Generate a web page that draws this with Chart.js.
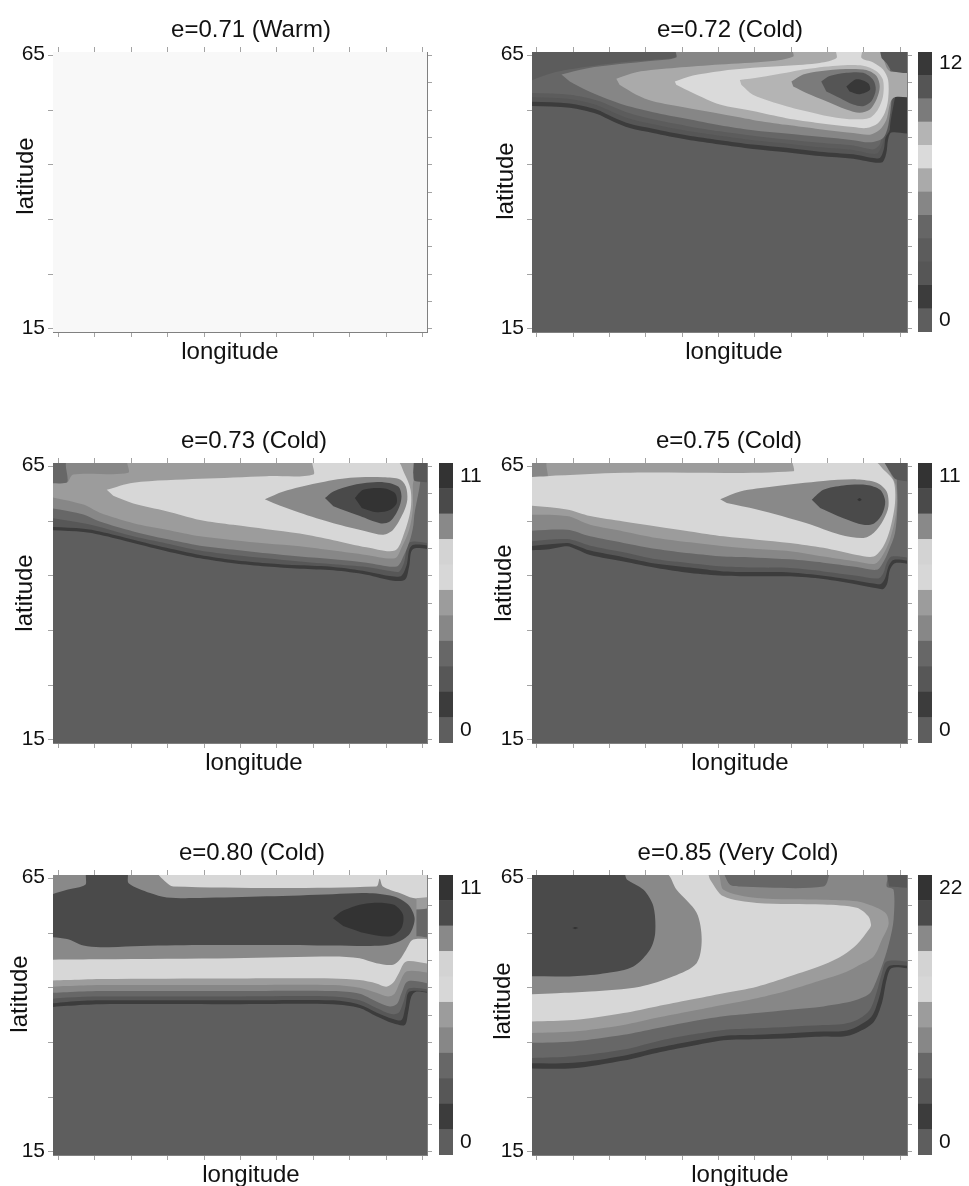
<!DOCTYPE html>
<html>
<head>
<meta charset="utf-8">
<script src="https://cdn.jsdelivr.net/npm/chart.js@4.4.0/dist/chart.umd.min.js"></script>
<style>
  html, body { margin: 0; padding: 0; background: #fff; }
  #figure { position: relative; width: 969px; height: 1186px; overflow: hidden; }
  #figure canvas { position: absolute; }
</style>
</head>
<body>
<div id="figure"></div>
<script>
// ---- data ----
// longitude axis has no labels: x is the tick index 0..10, y is latitude
const lonTicks = [0, 1, 2, 3, 4, 5, 6, 7, 8, 9, 10];
const latTicks = [15, 20, 25, 30, 35, 40, 45, 50, 55, 60, 65];
const latLabels = [15, 65];

const panelTitles = ['e=0.71 (Warm)', 'e=0.72 (Cold)', 'e=0.73 (Cold)', 'e=0.75 (Cold)', 'e=0.80 (Cold)', 'e=0.85 (Very Cold)'];
const colorbarMax = [null, 12, 11, 11, 11, 22];
const colorbarBands = [0, 12, 11, 11, 11, 11];

// contour regions: [level, [[lon, lat], ...]], painted in this order
const contours072 = [
  [1, [[-0.5,66],[10.5,66],[10.5,51.1],[9.76,50.9],[9.67,49.6],[9.62,47.1],[9.49,45.4],[8.71,46.1],[7.79,46.6],[6.87,47.3],[5.95,47.9],[5.04,48.7],[4.12,49.6],[3.20,50.8],[2.56,51.7],[2.10,52.9],[1.64,54.3],[0.91,55.4],[-0.5,55.8]]],
  [2, [[-0.5,66],[9.72,66],[9.72,51.5],[9.6,50.0],[9.55,47.8],[9.42,46.2],[8.71,46.9],[7.79,47.4],[6.87,48.1],[5.95,48.7],[5.04,49.5],[4.12,50.4],[3.20,51.6],[2.56,52.5],[2.10,53.7],[1.64,55.1],[0.91,56.2],[-0.5,56.6]]],
  [3, [[-0.5,66],[9.7,66],[9.7,52.5],[9.58,50.5],[9.5,48.5],[9.35,47.0],[8.71,47.7],[7.79,48.2],[6.87,48.9],[5.95,49.5],[5.04,50.3],[4.12,51.2],[3.20,52.4],[2.56,53.4],[2.10,54.6],[1.64,55.9],[0.91,57.0],[-0.5,57.4]]],
  [4, [[-0.5,59.5],[0.45,61.8],[1.37,62.9],[2.28,63.7],[3.2,64.2],[3.84,64.7],[3.84,66],[9.65,66],[9.65,53],[9.5,50],[9.42,48.5],[9.25,47.8],[8.71,48.5],[7.79,49.0],[6.87,49.6],[5.95,50.3],[5.04,51.1],[4.12,52.1],[3.20,53.3],[2.56,54.4],[2.10,55.6],[1.64,56.8],[0.91,57.8],[-0.5,58.2]]],
  [5, [[0.68,61.5],[1.37,62.6],[2.28,63.4],[3.20,64.0],[3.84,64.6],[3.84,66],[9.53,66],[9.72,62.4],[9.76,56.9],[9.67,52.1],[9.53,49.9],[9.17,49.1],[8.71,49.5],[7.79,50.1],[6.87,50.7],[5.95,51.3],[5.04,52.2],[4.12,53.4],[3.20,54.6],[2.28,56.2],[1.37,58.6],[0.91,60.2]]],
  [6, [[2.19,60.7],[2.74,61.9],[3.84,62.7],[5.04,63.3],[6.41,63.9],[7.06,64.8],[7.06,66],[9.44,66],[9.53,64.5],[9.72,62.1],[10.5,62.1],[10.5,57.5],[9.81,57.2],[9.62,53.2],[9.44,51.4],[9.17,50.5],[8.71,50.8],[7.79,51.5],[6.87,52.3],[5.95,53.2],[5.04,54.3],[4.12,55.4],[3.20,56.6],[2.74,57.8],[2.28,59.6]]],
  [7, [[3.80,60.2],[4.30,61.3],[5.04,62.1],[5.95,62.7],[6.87,63.1],[7.79,63.6],[8.25,64.5],[8.25,66],[8.94,66],[8.94,64.5],[9.26,63.7],[9.53,62.4],[9.67,60.5],[9.67,56.9],[9.58,54.5],[9.39,52.6],[9.07,51.7],[8.71,51.9],[7.79,52.6],[6.87,53.5],[5.95,54.8],[5.04,56.0],[4.30,58.1],[3.84,59.6]]],
  [8, [[5.59,60.5],[6.14,61.0],[6.87,61.8],[7.33,62.4],[8.25,63.1],[8.98,63.1],[9.35,62.1],[9.53,60.5],[9.53,57.5],[9.39,55.1],[9.17,53.6],[8.71,53.3],[8.25,53.6],[7.79,54.2],[6.87,55.7],[5.95,57.8],[5.63,59.6]]],
  [9, [[7.01,60.2],[7.33,61.5],[7.79,62.1],[8.52,62.5],[9.07,62.3],[9.35,61.2],[9.44,59.3],[9.35,56.9],[9.17,55.1],[8.89,54.5],[8.52,55.1],[7.97,56.6],[7.42,58.1],[7.06,59.3]]],
  [10, [[7.83,60.2],[8.06,61.2],[8.52,61.8],[8.98,61.8],[9.26,60.5],[9.33,58.7],[9.21,56.6],[8.98,55.7],[8.71,56.0],[8.34,57.2],[7.97,58.4]]],
  [11, [[8.52,59.3],[8.80,60.6],[9.12,59.9],[9.17,58.7],[8.89,57.9],[8.61,58.4]]],
  [2, [[9.44,66],[10.5,66],[10.5,62.1],[9.81,62.1],[9.62,63.6],[9.49,64.5]]]
];

const contours073 = [
  [1, [[-0.5,66],[10.5,66],[10.5,50.2],[9.74,49.9],[9.63,46.7],[9.52,44.3],[9.19,44.1],[8.46,45.2],[7.55,46.0],[6.63,46.3],[5.72,46.7],[4.80,47.3],[3.89,48.2],[2.97,49.5],[2.06,51.0],[1.14,52.5],[0.69,53.0],[-0.5,53.4]]],
  [2, [[-0.5,66],[10.5,66],[10.5,50.9],[9.70,50.5],[9.56,46.9],[9.42,45.0],[9.15,44.9],[8.46,45.8],[7.55,46.6],[6.63,46.9],[5.72,47.3],[4.80,47.9],[3.89,48.8],[2.97,50.1],[2.06,51.6],[1.14,53.1],[0.69,53.6],[-0.5,54.0]]],
  [3, [[-0.5,66],[10.5,66],[10.5,51.3],[9.65,51.1],[9.49,47.4],[9.36,45.8],[9.19,45.8],[8.46,46.6],[7.55,47.1],[6.63,47.6],[5.72,48.2],[4.80,48.8],[3.89,49.6],[2.97,50.9],[2.06,52.2],[1.14,53.9],[0.69,54.6],[-0.5,55.9]]],
  [4, [[-0.5,62.0],[0.23,62.0],[0.27,66],[9.76,66],[9.76,55.2],[9.67,51.9],[9.47,48.5],[9.29,46.7],[8.46,47.4],[7.55,48.0],[6.63,48.5],[5.72,49.1],[4.80,49.8],[3.89,50.5],[2.97,51.7],[2.06,53.1],[1.14,54.9],[0.69,56.2],[-0.5,57.7]]],
  [5, [[-0.5,62.0],[0.23,62.0],[0.41,63.5],[1.92,63.8],[1.92,66],[9.73,66],[9.73,61.3],[9.73,57.1],[9.63,53.4],[9.42,50.1],[9.24,48.2],[8.46,48.8],[7.55,49.6],[6.63,50.4],[5.72,50.9],[4.80,51.5],[3.89,52.2],[2.97,53.4],[2.06,54.6],[1.14,56.5],[0.69,58.0],[-0.5,59.8]]],
  [6, [[1.33,60.7],[2.06,62.0],[3.89,62.7],[5.72,63.2],[7.0,63.5],[7.0,66],[9.29,66],[9.49,63.8],[9.67,60.7],[9.67,57.1],[9.49,52.7],[9.24,49.6],[8.46,50.2],[7.55,51.5],[6.63,52.7],[5.72,53.5],[4.80,54.3],[3.89,55.2],[2.97,56.8],[2.06,58.2],[1.51,59.6]]],
  [8, [[5.67,59.0],[6.18,60.4],[7.09,61.9],[8.01,62.9],[8.92,63.0],[9.38,62.6],[9.54,61.3],[9.58,58.9],[9.47,56.5],[9.19,53.4],[8.92,52.5],[8.46,53.1],[7.55,54.6],[6.63,56.5],[5.90,58.3]]],
  [9, [[7.32,59.2],[7.55,60.4],[8.10,61.6],[8.92,62.1],[9.33,61.3],[9.42,59.5],[9.33,57.1],[9.10,54.9],[8.83,54.6],[8.28,55.9],[7.55,57.7]]],
  [10, [[8.14,59.2],[8.37,60.7],[8.92,61.0],[9.24,60.1],[9.29,58.3],[9.10,57.0],[8.74,56.6],[8.33,57.4]]],
  [2, [[9.76,66],[10.5,66],[10.5,62.6],[9.79,62.3],[9.74,63.8]]]
];

const contours075 = [
  [1, [[-0.5,66],[10.5,66],[10.5,47.6],[9.86,47.3],[9.72,46.1],[9.65,43.7],[9.54,42.6],[9.36,42.7],[8.81,43.4],[7.89,44.4],[6.97,44.9],[6.06,44.9],[5.14,45.0],[4.22,45.5],[3.30,46.4],[2.39,47.6],[1.47,48.8],[1.10,49.8],[0.83,50.4],[0.28,49.8],[-0.5,49.6]]],
  [2, [[-0.5,66],[10.5,66],[10.5,48.2],[9.82,47.9],[9.68,46.7],[9.59,44.6],[9.47,43.5],[9.27,43.6],[8.81,44.1],[7.89,45.0],[6.97,45.6],[6.06,45.7],[5.14,45.8],[4.22,46.5],[3.30,47.2],[2.39,48.4],[1.47,49.6],[1.10,50.5],[0.83,51.0],[-0.5,50.2]]],
  [3, [[-0.5,66],[10.5,66],[10.5,48.8],[9.77,48.5],[9.63,47.3],[9.54,45.5],[9.40,44.5],[8.81,45.0],[7.89,45.8],[6.97,46.4],[6.06,46.5],[5.14,46.7],[4.22,47.3],[3.30,48.0],[2.39,49.3],[1.47,50.5],[0.83,51.7],[-0.5,51.1]]],
  [4, [[-0.5,66],[9.91,66],[9.91,62.3],[9.93,58.3],[9.86,52.8],[9.68,49.5],[9.52,47.3],[9.36,46.1],[8.81,46.6],[7.89,47.4],[6.97,48.0],[6.06,48.3],[5.14,48.5],[4.22,49.1],[3.30,49.9],[2.39,51.0],[1.47,52.2],[0.83,53.4],[-0.5,53.1]]],
  [5, [[-0.5,62.6],[0.28,62.6],[0.32,66],[9.54,66],[9.72,63.8],[9.89,61.3],[9.89,56.5],[9.72,51.6],[9.50,48.5],[9.31,47.2],[8.81,47.6],[7.89,48.5],[6.97,49.5],[6.06,49.9],[5.14,50.4],[4.22,51.1],[3.30,51.9],[2.39,53.1],[1.47,54.3],[0.83,55.9],[-0.5,56.2]]],
  [6, [[-0.5,62.9],[0.28,63.2],[2.39,63.8],[7.06,64.1],[7.06,66],[9.27,66],[9.54,64.4],[9.82,62.3],[9.86,58.3],[9.72,53.4],[9.54,50.4],[9.27,48.5],[8.81,48.8],[7.89,50.1],[6.97,51.0],[6.06,51.6],[5.14,52.2],[4.22,53.1],[3.30,54.0],[2.39,54.9],[1.47,55.9],[0.83,57.1],[-0.5,58.0]]],
  [8, [[5.05,59.0],[5.60,60.4],[6.51,61.3],[7.89,62.3],[8.81,62.6],[9.36,62.0],[9.63,60.4],[9.68,57.7],[9.54,55.2],[9.27,52.8],[8.99,51.9],[8.35,52.5],[7.43,54.6],[6.06,57.1],[5.23,58.3]]],
  [9, [[7.57,58.9],[7.89,60.7],[8.44,61.5],[9.08,61.6],[9.45,60.7],[9.59,58.6],[9.50,56.2],[9.27,54.5],[8.99,54.3],[8.44,55.5],[7.80,57.4]]],
  [10, [[8.82,58.9],[8.88,59.2],[8.94,58.9],[8.88,58.6]]],
  [2, [[9.54,66],[10.5,66],[10.5,62.6],[9.9,62.6],[9.7,64.2]]]
];

const contours080 = [
  [1, [[-0.5,66],[10.5,66],[10.5,44.3],[9.83,44.3],[9.69,43.4],[9.60,40.4],[9.51,38.2],[9.19,38.5],[8.73,39.8],[8.27,41.3],[7.54,42.0],[4.80,42.0],[1.15,42.0],[0.24,41.7],[-0.5,41.3]]],
  [2, [[-0.5,66],[10.5,66],[10.5,44.8],[9.64,44.3],[9.53,41.6],[9.42,39.1],[9.19,39.3],[8.73,40.5],[8.27,41.9],[7.54,42.7],[4.80,42.7],[1.15,42.7],[0.24,42.4],[-0.5,41.9]]],
  [3, [[-0.5,66],[10.5,66],[10.5,45.2],[9.63,44.9],[9.48,42.5],[9.35,40.5],[9.14,40.2],[8.73,41.3],[8.27,42.7],[7.54,43.4],[4.80,43.4],[1.15,43.4],[0.24,43.2],[-0.5,42.8]]],
  [4, [[-0.5,66],[10.5,66],[10.5,46.2],[9.60,46.2],[9.42,44.0],[9.30,42.1],[9.10,41.6],[8.73,42.5],[8.27,43.9],[7.54,44.4],[4.80,44.4],[1.15,44.4],[0.24,44.2],[-0.5,44.0]]],
  [5, [[-0.5,66],[10.5,66],[10.5,48.3],[9.57,48.0],[9.37,45.9],[9.23,43.9],[9.05,43.4],[8.73,44.1],[8.27,45.0],[7.54,45.5],[4.80,45.5],[1.15,45.5],[0.24,45.3],[-0.5,45.1]]],
  [6, [[-0.5,66],[10.5,66],[10.5,49.8],[9.55,49.8],[9.35,47.7],[9.19,45.9],[9.00,45.2],[8.73,45.8],[8.27,46.4],[7.54,46.7],[4.80,46.7],[1.15,46.6],[0.24,46.4],[-0.5,46.3]]],
  [8, [[-0.5,66],[10.5,66],[10.5,54.4],[9.74,53.8],[9.55,52.0],[9.37,50.1],[9.19,49.2],[8.73,49.5],[8.27,50.4],[7.54,50.7],[4.80,50.4],[1.15,50.2],[-0.5,50.1]]],
  [9, [[-0.5,61.4],[0.24,62.9],[0.74,63.8],[0.79,66],[1.88,66],[1.93,64.1],[2.52,62.3],[2.98,61.5],[3.89,61.4],[5.72,61.7],[7.54,62.1],[8.46,62.3],[9.19,61.7],[9.60,60.2],[9.78,57.7],[9.66,55.0],[9.37,53.5],[8.91,52.7],[7.54,52.7],[5.72,52.8],[3.89,52.8],[2.06,52.6],[1.15,52.4],[0.69,52.7],[0.24,53.9],[-0.5,54.4]]],
  [10, [[7.54,57.7],[7.82,59.1],[8.46,60.4],[9.19,60.2],[9.46,58.4],[9.42,55.9],[9.14,54.4],[8.46,54.9],[7.82,56.3]]],
  [6, [[2.70,66],[2.89,64.7],[3.16,63.5],[8.73,63.5],[8.82,64.9],[8.91,63.5],[9.37,62.3],[9.74,61.4],[10.5,61.4],[10.5,66]]],
  [5, [[9.83,61.4],[10.5,61.4],[10.5,59.3],[9.83,59.3]]],
  [3, [[9.83,59.3],[10.5,59.3],[10.5,54.4],[9.83,54.4]]]
];

const contours085 = [
  [1, [[-0.5,66],[10.5,66],[10.5,49.0],[9.77,48.6],[9.63,46.5],[9.50,42.2],[9.27,38.7],[8.81,36.8],[8.44,36.1],[7.89,36.1],[6.97,35.8],[6.06,35.6],[5.14,35.4],[4.22,34.3],[3.30,33.1],[2.39,31.7],[1.01,30.3],[-0.5,30.3]]],
  [2, [[-0.5,66],[10.5,66],[10.5,49.6],[9.71,49.0],[9.56,47.1],[9.43,43.4],[9.22,39.8],[8.81,37.9],[8.44,37.1],[7.89,37.0],[6.97,36.7],[6.06,36.4],[5.14,36.2],[4.22,35.2],[3.30,34.0],[2.39,32.6],[1.01,31.3],[-0.5,31.2]]],
  [3, [[-0.5,66],[10.5,66],[10.5,50.4],[9.63,49.8],[9.50,47.7],[9.36,44.3],[9.17,41.0],[8.81,39.1],[8.44,38.4],[7.89,38.2],[6.97,37.9],[6.06,37.6],[5.14,37.3],[4.22,36.4],[3.30,35.2],[2.39,33.7],[1.01,32.5],[-0.5,32.1]]],
  [4, [[-0.5,66],[9.63,66],[9.63,63.5],[9.82,62.9],[9.82,57.4],[9.72,53.8],[9.59,50.7],[9.36,46.5],[9.17,44.0],[8.81,42.8],[8.44,42.2],[7.89,41.6],[6.97,41.0],[6.06,40.4],[5.14,39.8],[4.22,38.8],[3.30,37.6],[2.39,36.4],[1.01,35.2],[-0.5,34.9]]],
  [3, [[5.14,66],[5.32,63.8],[5.6,63.5],[7.89,63.5],[8.07,66]]],
  [2, [[9.63,66],[10.5,66],[10.5,63.5],[9.7,63.5]]],
  [5, [[-0.5,66],[4.95,66],[5.14,62.9],[6.06,61.4],[7.89,61.1],[8.81,60.8],[9.36,59.6],[9.63,58.4],[9.68,56.5],[9.50,53.8],[9.27,50.7],[8.81,48.9],[8.44,47.7],[7.89,46.5],[6.97,44.6],[6.06,43.1],[5.14,41.9],[4.22,40.7],[3.30,39.5],[2.39,38.2],[1.01,37.0],[-0.5,36.7]]],
  [6, [[-0.5,66],[4.68,66],[4.77,64.8],[5.14,61.7],[6.06,60.5],[7.89,60.2],[8.81,59.6],[9.13,58.0],[9.20,56.5],[9.17,55.9],[8.81,52.9],[8.44,51.0],[7.89,49.2],[6.97,47.1],[6.06,45.2],[5.14,44.0],[4.22,42.8],[3.30,41.6],[2.39,40.4],[1.01,39.1],[-0.5,38.8]]],
  [8, [[-0.5,66],[3.53,66],[3.85,62.9],[4.40,58.7],[4.54,53.8],[4.40,49.5],[3.76,47.1],[2.84,45.2],[1.47,44.3],[0.55,44.0],[-0.5,43.7]]],
  [9, [[-0.5,66],[2.39,66],[2.48,64.8],[2.94,62.9],[3.21,59.9],[3.26,55.0],[3.12,52.0],[2.66,48.9],[1.93,47.7],[1.01,47.1],[-0.5,47.1]]],
  [10, [[0.98,55.9],[1.06,56.1],[1.14,55.9],[1.06,55.7]]]
];

const contourSets = [[], contours072, contours073, contours075, contours080, contours085];

// ---- styles / layout ----
const gray12 = ['#5e5e5e','#3c3c3c','#565656','#5c5c5c','#666666','#868686','#aaaaaa','#dadada','#b4b4b4','#7b7b7b','#555555','#383838'];
const gray11 = ['#5e5e5e','#3c3c3c','#575757','#676767','#878787','#9c9c9c','#d7d7d7','#d3d3d3','#898989','#4a4a4a','#333333'];
const palettes = [null, gray12, gray11, gray11, gray11, gray11];

const plotLeft = [53, 532], plotRight = [427, 907], plotTop = [52, 463, 875];
const PLOT_H = 280;
const lonRange = [[-0.145, 10.12], [-0.13, 10.19]];
const panels = [
  {col: 0, row: 0, titleX: 251, xlabX: 230, ylabX: 26, ylabY: 176},
  {col: 1, row: 0, titleX: 730, xlabX: 734, ylabX: 506, ylabY: 181},
  {col: 0, row: 1, titleX: 254, xlabX: 254, ylabX: 25, ylabY: 593},
  {col: 1, row: 1, titleX: 729, xlabX: 740, ylabX: 504, ylabY: 583},
  {col: 0, row: 2, titleX: 252, xlabX: 251, ylabX: 20, ylabY: 994},
  {col: 1, row: 2, titleX: 738, xlabX: 740, ylabX: 503, ylabY: 1001}
];

const FONT = "'Liberation Sans', Arial, sans-serif";
const TEXT = '#111111';
Chart.defaults.font.family = FONT;

const fig = document.getElementById('figure');

// fills the plot area with the level-0 colour
const plotBackground = {
  id: 'plotBackground',
  beforeDatasetsDraw(chart, args, opts) {
    const {ctx, chartArea: a} = chart;
    ctx.save();
    ctx.fillStyle = opts.color;
    ctx.fillRect(a.left, a.top, a.right - a.left, a.bottom - a.top);
    ctx.restore();
  }
};

// title and axis names, placed where the original figure has them
const panelText = {
  id: 'panelText',
  afterDraw(chart, args, opts) {
    const {ctx, chartArea: a} = chart;
    ctx.save();
    ctx.fillStyle = TEXT;
    ctx.textAlign = 'center';
    ctx.textBaseline = 'middle';
    ctx.font = '24px ' + FONT;
    ctx.fillText(opts.title, opts.titleX - opts.originX, a.top - 22);
    ctx.fillText('longitude', opts.xlabX - opts.originX, a.bottom + 20);
    ctx.translate(opts.ylabX - opts.originX, opts.ylabY - opts.originY);
    ctx.rotate(-Math.PI / 2);
    ctx.fillText('latitude', 0, 0);
    ctx.restore();
  }
};

function addCanvas(left, top, w, h) {
  const c = document.createElement('canvas');
  c.width = w; c.height = h;
  c.style.left = left + 'px'; c.style.top = top + 'px';
  c.style.width = w + 'px'; c.style.height = h + 'px';
  fig.appendChild(c);
  return c;
}

function lonAxis(position, range) {
  return {
    type: 'linear', position, min: range[0], max: range[1],
    afterBuildTicks: s => { s.ticks = lonTicks.map(v => ({value: v})); },
    afterFit: s => { s.height = 16; },
    ticks: {display: false},
    grid: {drawOnChartArea: false, drawTicks: true, tickLength: 5, tickColor: '#a3a3a3'},
    border: {display: true, color: '#808080', width: 1}
  };
}

function latAxis(position, labelled) {
  return {
    type: 'linear', position, min: 14.45, max: 65.6,
    afterBuildTicks: s => { s.ticks = latTicks.map(v => ({value: v})); },
    afterFit: s => { s.width = labelled ? 48 : 16; },
    ticks: {
      display: labelled,
      padding: 3,
      labelOffset: -1,
      color: TEXT,
      font: {size: 21, family: FONT},
      callback: v => latLabels.includes(v) ? String(v) : ''
    },
    grid: {drawOnChartArea: false, drawTicks: true, tickLength: 5, tickColor: '#a3a3a3'},
    border: {display: true, color: '#808080', width: 1}
  };
}

function makePlot(i) {
  const p = panels[i];
  const originX = p.col === 0 ? 0 : 484;
  const originY = plotTop[p.row] - 52;
  const w = p.col === 0 ? 484 : 485, h = 372;
  const canvas = addCanvas(originX, originY, w, h);
  const left = plotLeft[p.col] - originX, right = plotRight[p.col] - originX;
  const pal = palettes[i];

  const datasets = contourSets[i].map(([level, ring], k) => ({
    data: ring.map(([x, y]) => ({x, y})),
    showLine: true,
    fill: 'shape',
    backgroundColor: pal[level],
    borderColor: pal[level],
    borderWidth: 0,
    pointRadius: 0,
    pointHoverRadius: 0,
    tension: 0.3,
    order: -k
  }));

  new Chart(canvas, {
    type: 'scatter',
    data: {datasets},
    options: {
      responsive: false,
      animation: false,
      devicePixelRatio: 1,
      events: [],
      layout: {padding: {left: left - 48, top: 52 - 16, right: w - right - 16, bottom: h - 52 - PLOT_H - 16}},
      plugins: {
        legend: {display: false},
        tooltip: {enabled: false},
        plotBackground: {color: pal ? pal[0] : '#f8f8f8'},
        panelText: {title: panelTitles[i], titleX: p.titleX, xlabX: p.xlabX, ylabX: p.ylabX, ylabY: p.ylabY, originX, originY}
      },
      scales: {
        x: lonAxis('bottom', lonRange[p.col]),
        x2: lonAxis('top', lonRange[p.col]),
        y: latAxis('left', true),
        y2: latAxis('right', false)
      }
    },
    plugins: [plotBackground, panelText]
  });
}

function makeColorbar(i) {
  const p = panels[i];
  const max = colorbarMax[i], bands = colorbarBands[i];
  const step = max / bands;
  const pal = palettes[i];
  const cbLeft = p.col === 0 ? 439 : 918;
  const canvas = addCanvas(cbLeft, plotTop[p.row] - 20, 14 + 45, PLOT_H + 40);

  const datasets = pal.slice(0, bands).map(color => ({
    data: [step],
    backgroundColor: color,
    borderWidth: 0,
    barPercentage: 1,
    categoryPercentage: 1
  }));

  new Chart(canvas, {
    type: 'bar',
    data: {labels: [''], datasets},
    options: {
      responsive: false,
      animation: false,
      devicePixelRatio: 1,
      events: [],
      layout: {padding: {top: 20, bottom: 20, left: 0, right: 0}},
      plugins: {legend: {display: false}, tooltip: {enabled: false}},
      scales: {
        x: {stacked: true, display: false},
        y: {
          stacked: true, position: 'right', min: 0, max,
          afterBuildTicks: s => { s.ticks = [{value: step / 2}, {value: max - step / 2}]; },
          afterFit: s => { s.width = 45; },
          ticks: {
            padding: 7,
            color: TEXT,
            font: {size: 21, family: FONT},
            callback: (v, idx) => idx === 0 ? '0' : String(max)
          },
          grid: {display: false, drawTicks: false},
          border: {display: false}
        }
      }
    }
  });
}

panels.forEach((p, i) => {
  makePlot(i);
  if (colorbarMax[i] !== null) makeColorbar(i);
});
</script>
</body>
</html>
